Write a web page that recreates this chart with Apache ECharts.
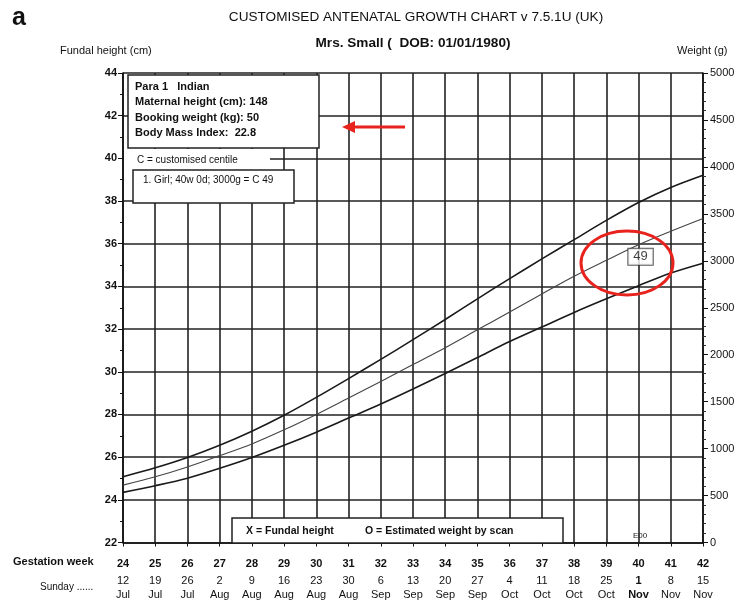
<!DOCTYPE html>
<html>
<head>
<meta charset="utf-8">
<script src="https://cdn.jsdelivr.net/npm/echarts@6/dist/echarts.min.js"></script>
<style>
  html, body { margin: 0; padding: 0; background: #fff; }
  #chart { width: 740px; height: 600px; }
</style>
</head>
<body>
<div id="chart"></div>
<script>
// gestation weeks and the Sunday dates under them
var weeks = [24, 25, 26, 27, 28, 29, 30, 31, 32, 33, 34, 35, 36, 37, 38, 39, 40, 41, 42]
var sundayDays = ['12', '19', '26', '2', '9', '16', '23', '30', '6', '13', '20', '27', '4', '11', '18', '25', '1', '8', '15']
var sundayMonths = ['Jul', 'Jul', 'Jul', 'Aug', 'Aug', 'Aug', 'Aug', 'Aug', 'Sep', 'Sep', 'Sep', 'Sep', 'Oct', 'Oct', 'Oct', 'Oct', 'Nov', 'Nov', 'Nov']

// centile curves, estimated weight (g)
var upperCentile = [700, 795, 905, 1035, 1185, 1355, 1545, 1745, 1950, 2160, 2375, 2595, 2810, 3020, 3225, 3430, 3620, 3780, 3910]
var middleCentile = [611, 700, 805, 925, 1050, 1200, 1364, 1539, 1714, 1895, 2075, 2265, 2455, 2647, 2835, 3005, 3171, 3315, 3451]
var lowerCentile = [534, 605, 685, 790, 905, 1035, 1175, 1325, 1475, 1635, 1800, 1970, 2140, 2295, 2450, 2595, 2735, 2870, 2975]

// the one scan result: week 40, 3000 g = centile 49
var scanPoint = [40, 3000]
var scanCentile = '49'

var dueWeek = 40

function pairs(vals) {
  return weeks.map(function (w, i) { return [w, vals[i]] })
}

var chart = echarts.init(document.getElementById('chart'))

var gridColor = '#222'
var red = '#e8231e'

var option = {
  backgroundColor: '#fff',
  animation: false,
  grid: { left: 123, right: 37, top: 73, bottom: 57, containLabel: false },
  xAxis: {
    type: 'value',
    min: 24,
    max: 42,
    interval: 1,
    axisLine: { lineStyle: { color: '#111', width: 1.6 } },
    axisTick: { length: 4, lineStyle: { color: '#111' } },
    splitLine: { show: true, lineStyle: { color: gridColor, width: 1.6 } },
    axisLabel: {
      margin: 12,
      fontFamily: 'Liberation Sans',
      color: '#111',
      formatter: function (v) {
        var i = Math.round(v) - 24
        if (i < 0 || i >= weeks.length) return ''
        var st = weeks[i] === dueWeek ? 'db' : 'd'
        return '{w|' + weeks[i] + '}\n{' + st + '|' + sundayDays[i] + '}\n{' + st + '|' + sundayMonths[i] + '}'
      },
      rich: {
        w: { fontSize: 11, fontWeight: 'bold', lineHeight: 19, color: '#111', fontFamily: 'Liberation Sans' },
        d: { fontSize: 11, lineHeight: 14, color: '#111', fontFamily: 'Liberation Sans' },
        db: { fontSize: 11, fontWeight: 'bold', lineHeight: 14, color: '#111', fontFamily: 'Liberation Sans' }
      }
    }
  },
  yAxis: [
    {
      type: 'value',
      position: 'left',
      min: 22,
      max: 44,
      interval: 2,
      axisLine: { show: true, lineStyle: { color: '#111', width: 1.6 } },
      axisTick: { show: true, length: 5, lineStyle: { color: '#111' } },
      minorTick: { show: true, splitNumber: 2, length: 3, lineStyle: { color: '#111' } },
      splitLine: { show: true, lineStyle: { color: gridColor, width: 1.6 } },
      axisLabel: { fontSize: 11, fontWeight: 'bold', color: '#111', margin: 6, fontFamily: 'Liberation Sans' }
    },
    {
      type: 'value',
      position: 'right',
      min: 0,
      max: 5000,
      interval: 500,
      axisLine: { show: true, lineStyle: { color: '#111', width: 1.6 } },
      axisTick: { show: true, length: 5, lineStyle: { color: '#111' } },
      minorTick: { show: true, splitNumber: 5, length: 3, lineStyle: { color: '#333' } },
      splitLine: { show: false },
      axisLabel: {
        fontSize: 11, color: '#111', margin: 7, fontFamily: 'Liberation Sans',
        formatter: function (v) { return String(v) }
      }
    }
  ],
  series: [
    {
      name: 'upper', type: 'line', yAxisIndex: 1, data: pairs(upperCentile),
      smooth: 0.3, symbol: 'none', lineStyle: { color: '#1a1a1a', width: 1.6 }, z: 3
    },
    {
      name: 'middle', type: 'line', yAxisIndex: 1, data: pairs(middleCentile),
      smooth: 0.3, symbol: 'none', lineStyle: { color: '#444', width: 1.1 }, z: 3
    },
    {
      name: 'lower', type: 'line', yAxisIndex: 1, data: pairs(lowerCentile),
      smooth: 0.3, symbol: 'none', lineStyle: { color: '#1a1a1a', width: 1.6 }, z: 3
    },
    {
      name: 'scan', type: 'scatter', yAxisIndex: 1, data: [scanPoint],
      symbolSize: 1, itemStyle: { color: 'transparent' }, z: 5,
      label: {
        show: true, position: 'inside', offset: [2, -4],
        formatter: scanCentile, fontSize: 13, color: '#111', fontFamily: 'Liberation Sans',
        backgroundColor: '#fff', borderColor: '#333', borderWidth: 1, padding: [2, 5, 1, 5]
      }
    }
  ],
  graphic: [
    { type: 'text', left: 12, top: 6, z: 100, style: { text: 'a', font: 'bold 25px Liberation Sans', fill: '#111' } },
    { type: 'text', x: 416, y: 17, z: 100, style: { text: 'CUSTOMISED ANTENATAL GROWTH CHART v 7.5.1U (UK)', font: '13.6px Liberation Sans', fill: '#111', textAlign: 'center', textVerticalAlign: 'middle' } },
    { type: 'text', x: 413, y: 43, z: 100, style: { text: 'Mrs. Small (  DOB: 01/01/1980)', font: 'bold 13.6px Liberation Sans', fill: '#111', textAlign: 'center', textVerticalAlign: 'middle' } },
    { type: 'text', x: 60, y: 51, z: 100, style: { text: 'Fundal height (cm)', font: '11px Liberation Sans', fill: '#111', textVerticalAlign: 'middle' } },
    { type: 'text', x: 677, y: 51, z: 100, style: { text: 'Weight (g)', font: '11px Liberation Sans', fill: '#111', textVerticalAlign: 'middle' } },

    // patient info box
    { type: 'rect', z: 100, shape: { x: 128, y: 75, width: 191, height: 73 }, style: { fill: '#fff', stroke: '#222', lineWidth: 1.5 } },
    { type: 'text', x: 135, y: 87, z: 101, style: { text: 'Para 1   Indian', font: 'bold 11px Liberation Sans', fill: '#111', textVerticalAlign: 'middle' } },
    { type: 'text', x: 135, y: 102, z: 101, style: { text: 'Maternal height (cm): 148', font: 'bold 11px Liberation Sans', fill: '#111', textVerticalAlign: 'middle' } },
    { type: 'text', x: 135, y: 118, z: 101, style: { text: 'Booking weight (kg): 50', font: 'bold 11px Liberation Sans', fill: '#111', textVerticalAlign: 'middle' } },
    { type: 'text', x: 135, y: 133, z: 101, style: { text: 'Body Mass Index:  22.8', font: 'bold 11px Liberation Sans', fill: '#111', textVerticalAlign: 'middle' } },

    // centile key
    { type: 'rect', z: 99, shape: { x: 124, y: 149, width: 146, height: 21 }, style: { fill: '#fff' } },
    { type: 'text', x: 137, y: 160, z: 101, style: { text: 'C = customised centile', font: '10px Liberation Sans', fill: '#111', textVerticalAlign: 'middle' } },
    { type: 'rect', z: 100, shape: { x: 133, y: 170, width: 161, height: 33 }, style: { fill: '#fff', stroke: '#222', lineWidth: 1.5 } },
    { type: 'text', x: 143, y: 180, z: 101, style: { text: '1. Girl; 40w 0d; 3000g = C 49', font: '10px Liberation Sans', fill: '#111', textVerticalAlign: 'middle' } },

    // symbol key at the bottom
    { type: 'rect', z: 100, shape: { x: 232, y: 518, width: 331, height: 25 }, style: { fill: '#fff', stroke: '#222', lineWidth: 1.5 } },
    { type: 'text', x: 246, y: 531, z: 101, style: { text: 'X = Fundal height', font: 'bold 10.5px Liberation Sans', fill: '#111', textVerticalAlign: 'middle' } },
    { type: 'text', x: 365, y: 531, z: 101, style: { text: 'O = Estimated weight by scan', font: 'bold 10.5px Liberation Sans', fill: '#111', textVerticalAlign: 'middle' } },
    { type: 'text', x: 640, y: 536, z: 101, style: { text: 'E00', font: '8px Liberation Sans', fill: '#222', textAlign: 'center', textVerticalAlign: 'middle' } },

    // row captions under the axis
    { type: 'text', x: 13, y: 562, z: 100, style: { text: 'Gestation week', font: 'bold 11px Liberation Sans', fill: '#111', textVerticalAlign: 'middle' } },
    { type: 'text', x: 40, y: 587, z: 100, style: { text: 'Sunday ......', font: '10px Liberation Sans', fill: '#111', textVerticalAlign: 'middle' } },

    // red annotations
    { type: 'line', z: 110, shape: { x1: 405, y1: 127, x2: 352, y2: 127 }, style: { stroke: red, lineWidth: 3 } },
    { type: 'polygon', z: 110, shape: { points: [[342, 127], [355, 121], [355, 133]] }, style: { fill: red } },
    { type: 'ellipse', z: 110, shape: { cx: 627, cy: 263, rx: 46, ry: 32 }, style: { fill: 'none', stroke: red, lineWidth: 3 } }
  ]
}

chart.setOption(option)
</script>
</body>
</html>
